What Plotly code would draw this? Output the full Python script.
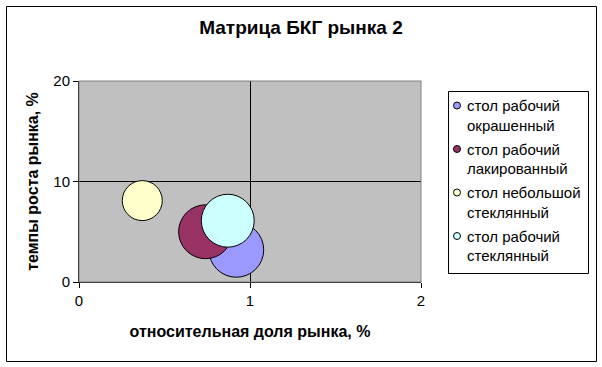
import plotly.graph_objects as go

# ---- data ----
series_names = [
    "стол рабочий<br>окрашенный",
    "стол рабочий<br>лакированный",
    "стол небольшой<br>стеклянный",
    "стол рабочий<br>стеклянный",
]
rel_share = [0.92, 0.74, 0.37, 0.87]      # относительная доля рынка
growth = [3.2, 5.0, 8.1, 6.1]             # темпы роста рынка
bubble_size = [30, 29, 16, 28]            # размер пузырька
colors = ["#9999FF", "#993366", "#FFFFCC", "#CCFFFF"]
x_ticks = [0, 1, 2]
y_ticks = [0, 10, 20]

title = "Матрица БКГ рынка 2"
x_title = "относительная доля рынка, %"
y_title = "темпы роста рынка, %"

FONT = "Liberation Sans, Arial, sans-serif"
W, H = 602, 367
L, R, T, B = 79, 421, 81, 282  # plot area in pixels

def px2x(px):
    return (px - L) / (R - L)

def px2y(py):
    return (B - py) / (B - T)

fig = go.Figure()
for i, name in enumerate(series_names):
    fig.add_trace(go.Scatter(
        x=[rel_share[i]], y=[growth[i]], mode="markers",
        name=name.replace("<br>", " "), showlegend=False,
        marker=dict(size=[bubble_size[i]], sizemode="area", sizeref=0.02,
                    color=colors[i], opacity=1,
                    line=dict(color="black", width=1)),
        hoverinfo="x+y+name",
    ))

shapes = []
annotations = []
# outer chart border
shapes.append(dict(type="rect", xref="paper", yref="paper",
                   x0=px2x(6.5), x1=px2x(596.5), y0=px2y(361.5), y1=px2y(6.5),
                   line=dict(color="black", width=1), fillcolor="rgba(0,0,0,0)",
                   layer="below"))
# plot area border (gray)
shapes.append(dict(type="rect", xref="paper", yref="paper",
                   x0=0, x1=1, y0=0, y1=1,
                   line=dict(color="#808080", width=1), fillcolor="rgba(0,0,0,0)",
                   layer="above"))
# custom legend box
lg_l, lg_r, lg_t, lg_b = 448.5, 588.5, 91.5, 273.5
shapes.append(dict(type="rect", xref="paper", yref="paper",
                   x0=px2x(lg_l), x1=px2x(lg_r), y0=px2y(lg_b), y1=px2y(lg_t),
                   line=dict(color="black", width=1), fillcolor="white"))
for i, name in enumerate(series_names):
    yc = 105.5 + 43.5 * i
    mx = 457
    shapes.append(dict(type="circle", xref="paper", yref="paper",
                       x0=px2x(mx - 3.5), x1=px2x(mx + 3.5),
                       y0=px2y(yc + 3.5), y1=px2y(yc - 3.5),
                       line=dict(color="black", width=1), fillcolor=colors[i]))
    for j, line_txt in enumerate(name.split("<br>")):
        annotations.append(dict(xref="paper", yref="paper",
                                x=px2x(465), y=px2y(yc + 19.5 * j),
                                xanchor="left", yanchor="middle",
                                text=line_txt, showarrow=False,
                                font=dict(family=FONT, size=15, color="black")))

fig.update_layout(
    width=W, height=H,
    margin=dict(l=L, r=W - R, t=T, b=H - B, pad=0),
    paper_bgcolor="white", plot_bgcolor="#C0C0C0",
    font=dict(family=FONT, size=15, color="black"),
    title=dict(text="<b>" + title + "</b>", x=0.5, xref="container",
               xanchor="center", y=1 - 27 / H, yanchor="middle",
               font=dict(family=FONT, size=19, color="black")),
    showlegend=False,
    xaxis=dict(range=[0, 2], tickvals=x_ticks, ticktext=[str(v) for v in x_ticks],
               showgrid=True, gridcolor="black", gridwidth=1, zeroline=False,
               showline=True, linecolor="black", linewidth=1,
               ticks="outside", ticklen=5, tickcolor="black",
               title=dict(text="<b>" + x_title + "</b>", standoff=17,
                          font=dict(family=FONT, size=16)),
               fixedrange=True),
    yaxis=dict(range=[0, 20], tickvals=y_ticks, ticktext=[str(v) for v in y_ticks],
               showgrid=True, gridcolor="black", gridwidth=1, zeroline=False,
               showline=True, linecolor="black", linewidth=1,
               ticks="outside", ticklen=5, tickcolor="black",
               title=dict(text="<b>" + y_title + "</b>", standoff=10,
                          font=dict(family=FONT, size=16)),
               fixedrange=True),
    shapes=shapes,
    annotations=annotations,
)

fig.write_html("out.html",
               config={"displayModeBar": False},
               post_script="document.body.style.margin='0';document.body.style.padding='0';")
